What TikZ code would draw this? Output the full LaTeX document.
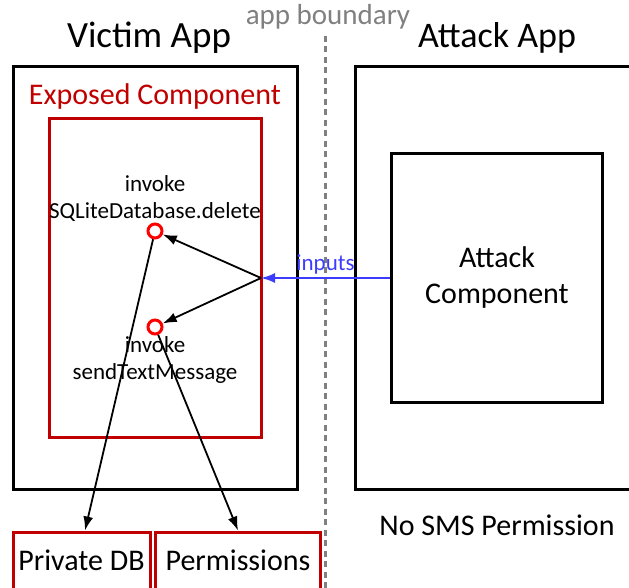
\documentclass[tikz,border=0pt]{standalone}
\usepackage{fontspec}
\setmainfont{Carlito}
\usetikzlibrary{arrows.meta, positioning}

\definecolor{boxred}{RGB}{192,0,0}
\definecolor{dotred}{RGB}{255,0,0}
\definecolor{inblue}{RGB}{60,60,255}
\definecolor{lgray}{RGB}{128,128,128}

\newcommand{\fsz}[1]{\fontsize{#1}{#1}\selectfont}

\begin{document}
\begin{tikzpicture}[x=1pt, y=-1pt, >={Latex[length=14pt,width=10pt]}, line width=1.8pt,
    appbox/.style={draw, line width=3pt, inner sep=0pt},
    redbox/.style={draw=boxred, line width=3pt, inner sep=0pt},
    sink/.style={redbox, minimum height=60pt},
    call/.style={circle, draw=dotred, line width=3pt, inner sep=0pt, minimum size=14pt},
    lbl/.style={align=center, font=\fsz{23}, inner sep=0pt}]
        \clip (0,0) rectangle (629,588);
        \useasboundingbox (0,0) rectangle (629,588);

        % The two apps
        \node[appbox, minimum width=284pt, minimum height=422pt] (victim) at (155,278) {};
        \node[appbox, minimum width=280pt, minimum height=422pt] (attack) at (495,278) {};
        \node[font=\fsz{37}] (victimT) at (149,38) {Victim App};
        \node[font=\fsz{36}] (attackT) at (497,38) {Attack App};

        % App boundary
        \node[font=\fsz{29}, text=lgray] (bound) at (328,17) {app boundary};
        \draw[lgray, line width=3pt, dash pattern=on 6pt off 4.5pt] (325,36) coordinate (btop) -- (325,592);

        % Inside the victim app
        \node[font=\fsz{30}, text=boxred] (expT) at (155,97) {Exposed Component};
        \node[redbox, minimum width=212pt, minimum height=318pt] (exposed) at (155,278) {};
        \node[lbl] (delT) at (155,199) {invoke\\[4pt]SQLiteDatabase.delete};
        \node[call] (del) at (155,231) {};
        \node[call] (sms) at (155,327) {};
        \node[lbl] (smsT) at (155,360) {invoke\\[4pt]sendTextMessage};
        \coordinate (entry) at (261,278);

        % Inside the attack app
        \node[appbox, minimum width=211pt, minimum height=249pt, align=center, font=\fsz{30}] (comp) at (497,278) {Attack\\[6pt]Component};
        \node[font=\fsz{30}] (nosms) at (497,525) {No SMS Permission};

        % Protected resources
        \node[sink, minimum width=137pt] (db) at (81.5,562) {};
        \node[font=\fsz{30}] (dbT) at (81.5,560) {Private DB};
        \node[sink, minimum width=165pt] (perm) at (238,562) {};
        \node[font=\fsz{30}] (permT) at (238,560) {Permissions};

        \path[->]
        % Malicious inputs reach the exposed component
        (comp.west) edge[inblue] node[above, font=\fsz{23}, inner sep=3pt, pos=0.5] {inputs} (entry)
        (entry) edge (del)
        (entry) edge (sms)

        % Sensitive operations
        (del) edge (db.north -| 85,0)
        (sms) edge (perm.north -| 238,0);
    \end{tikzpicture}
\end{document}
